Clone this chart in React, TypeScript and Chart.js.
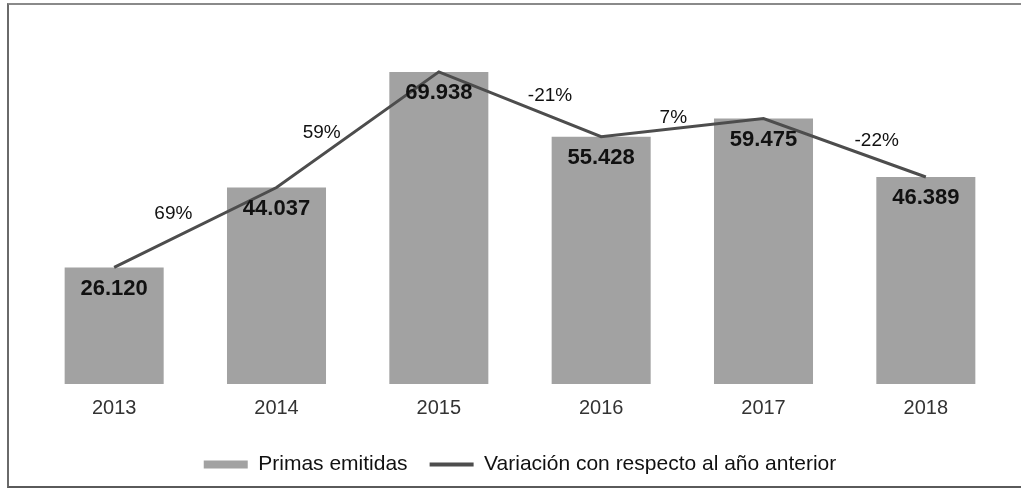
import React, { useEffect, useRef } from 'react';
import { Chart, registerables } from 'chart.js';

Chart.register(...registerables);

const years = ['2013', '2014', '2015', '2016', '2017', '2018'];
const primas = [26120, 44037, 69938, 55428, 59475, 46389];
const variacion = ['', '69%', '59%', '-21%', '7%', '-22%'];
const seriesNames = ['Primas emitidas', 'Variación con respecto al año anterior'];

// style-only offsets for the variation labels (relative to segment midpoints)
const varOffsets: [number, number][] = [[0, 0], [-22, -14], [-36, 3], [30, -9], [-9, -10], [32, -7]];

const FONT = '"Liberation Sans", Arial, Helvetica, sans-serif';
const BAR_COLOR = '#a2a2a2';
const LINE_COLOR = '#4d4d4d';

const fmt = (v: number) => String(v).replace(/\B(?=(\d{3})+(?!\d))/g, '.');

const labelPlugin = {
  id: 'valueLabels',
  afterDatasetsDraw(chart: any) {
    const ctx = chart.ctx;
    const barMeta = chart.getDatasetMeta(0);
    const lineMeta = chart.getDatasetMeta(1);
    ctx.save();
    ctx.textAlign = 'center';
    ctx.textBaseline = 'middle';
    ctx.fillStyle = '#111';
    ctx.font = `bold 22px ${FONT}`;
    barMeta.data.forEach((bar: any, i: number) => {
      ctx.fillText(fmt(primas[i]), bar.x, bar.y + 21);
    });
    ctx.font = `19px ${FONT}`;
    lineMeta.data.forEach((pt: any, i: number) => {
      if (i === 0 || !variacion[i]) return;
      const prev = lineMeta.data[i - 1];
      const mx = (prev.x + pt.x) / 2;
      const my = (prev.y + pt.y) / 2;
      ctx.fillText(variacion[i], mx + varOffsets[i][0], my + varOffsets[i][1]);
    });
    ctx.restore();
  },
};

export default function App() {
  const ref = useRef<HTMLCanvasElement | null>(null);

  useEffect(() => {
    document.body.style.margin = '0';
    document.body.style.overflow = 'hidden';
    if (!ref.current) return;
    const chart = new Chart(ref.current, {
      type: 'bar',
      data: {
        labels: years,
        datasets: [
          {
            type: 'bar',
            label: seriesNames[0],
            data: primas,
            backgroundColor: BAR_COLOR,
            borderWidth: 0,
            barPercentage: 0.61,
            categoryPercentage: 1,
            order: 2,
          } as any,
          {
            type: 'line',
            label: seriesNames[1],
            data: primas,
            borderColor: LINE_COLOR,
            backgroundColor: LINE_COLOR,
            borderWidth: 3,
            pointRadius: 0,
            pointStyle: 'line',
            pointBorderColor: LINE_COLOR,
            pointBorderWidth: 4,
            tension: 0,
            order: 1,
          } as any,
        ],
      },
      options: {
        animation: false,
        responsive: false,
        maintainAspectRatio: false,
        layout: { padding: { top: 27, left: 33, right: 14, bottom: 9 } },
        scales: {
          x: {
            grid: { display: false, drawTicks: false },
            border: { display: false },
            ticks: { padding: 12, color: '#333', font: { size: 20, family: FONT } },
          },
          y: { display: false, min: 0, max: 80000 },
        },
        plugins: {
          tooltip: { enabled: false },
          legend: {
            position: 'bottom',
            labels: {
              usePointStyle: true,
              pointStyleWidth: 44,
              boxHeight: 8,
              padding: 22,
              color: '#111',
              font: { size: 21, family: FONT },
              generateLabels: (c: any) => {
                const items = (Chart.defaults.plugins.legend.labels as any).generateLabels(c);
                items.sort((a: any, b: any) => a.datasetIndex - b.datasetIndex);
                items.forEach((it: any) => {
                  if (it.datasetIndex === 0) {
                    it.pointStyle = 'rect';
                    it.fillStyle = BAR_COLOR;
                    it.strokeStyle = BAR_COLOR;
                    it.lineWidth = 0;
                  } else {
                    it.pointStyle = 'line';
                    it.strokeStyle = LINE_COLOR;
                    it.fillStyle = LINE_COLOR;
                    it.lineWidth = 4;
                  }
                });
                return items;
              },
            },
          },
        },
      } as any,
      plugins: [labelPlugin],
    });
    return () => chart.destroy();
  }, []);

  return (
    <div style={{ position: 'fixed', left: 0, top: 0, width: 1021, height: 494, background: '#fff', overflow: 'hidden' }}>
      <div
        style={{
          position: 'absolute',
          left: 7,
          top: 3,
          width: 1040,
          height: 485,
          borderTop: '2px solid #8a8a8a',
          borderLeft: '2px solid #6a6a6a',
          borderBottom: '2px solid #5a5a5a',
          boxSizing: 'border-box',
        }}
      />
      <canvas ref={ref} width={1021} height={494} style={{ position: 'absolute', left: 0, top: 0, width: 1021, height: 494 }} />
    </div>
  );
}
